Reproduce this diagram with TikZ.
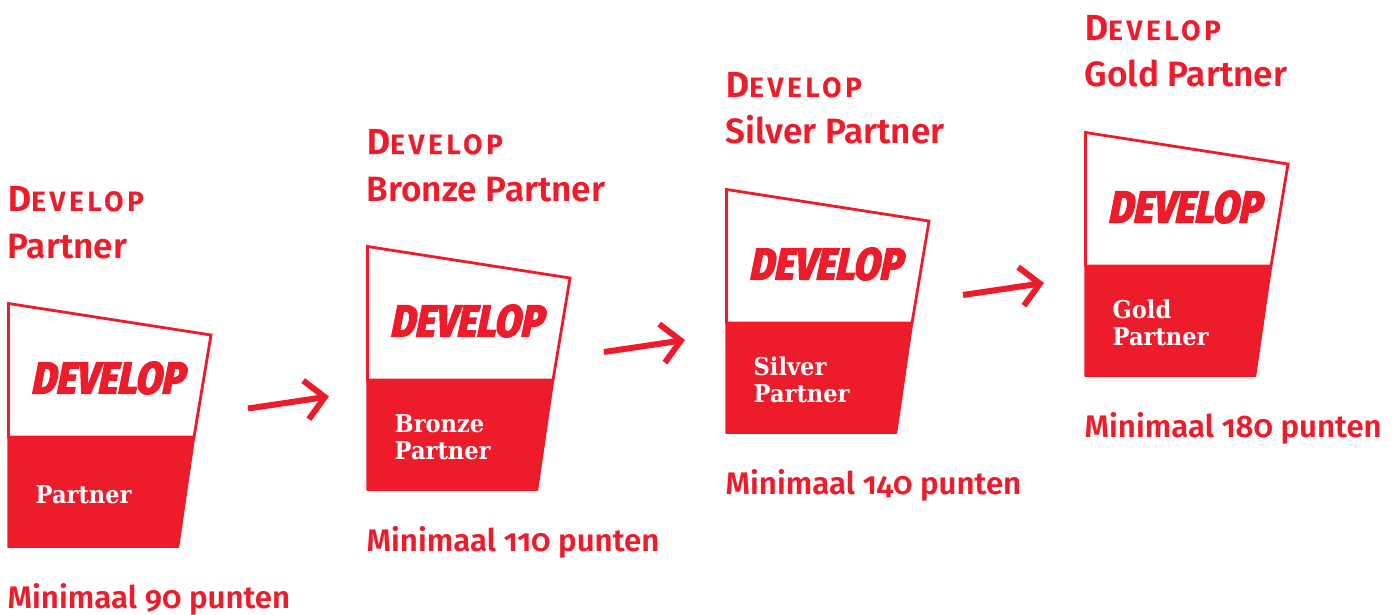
\documentclass[tikz,border=0pt]{standalone}
\usepackage{fontspec}
\usetikzlibrary{arrows.meta}
\setmainfont{Fira Sans}
\newfontfamily\headfont[RawFeature=+onum]{Fira Sans SemiBold}
\newfontfamily\logofont[FakeSlant=0.2,FakeStretch=0.84,FakeBold=2.5]{Fira Sans ExtraBold}
\newfontfamily\tierfont{DejaVu Serif}[BoldFont={DejaVu Serif Bold},BoldFeatures={FakeStretch=0.92}]
\definecolor{devred}{HTML}{EE1C2B}
\tikzset{
  x=1pt,y=-1pt,
  outline/.style={draw=devred,line width=2.8pt,line join=miter,fill=white},
  redpart/.style={fill=devred,draw=devred,line width=1.5pt,line join=round},
  headtext/.style={anchor=base west,inner sep=0pt,text=devred,font=\headfont\fontsize{35.2}{35}\selectfont},
  devtext/.style={anchor=base west,inner sep=0pt,text=devred},
  pointstext/.style={anchor=base west,inner sep=0pt,text=devred,font=\headfont\fontsize{31.2}{31.5}\selectfont},
  logotext/.style={anchor=center,inner sep=0pt,text=devred,font=\logofont\fontsize{45}{45}\selectfont},
  tiertext/.style={anchor=base west,inner sep=0pt,text=white,font=\tierfont\bfseries\fontsize{24.5}{27}\selectfont},
  stepline/.style={draw=devred,line width=6pt,-{Straight Barb[length=19pt,width=39pt,line width=6pt]}}
}
\newcommand{\devword}{{\headfont\addfontfeature{FakeBold=0.6}\fontsize{36}{36}\selectfont D\fontsize{28}{28}\selectfont\addfontfeature{LetterSpace=13}EVELOP}}
\newcommand{\badgegroup}[6]{%
  \begin{scope}[shift={(#2,#3)}]
    \node[devtext] (#1dev) at (7.5,211) {\devword};
    \node[headtext] (#1title) at (7.5,258) {#4};
    \draw[outline] (8.5,303.5) -- (211,335) -- (194,437) -- (8.5,437) -- cycle;
    \draw[redpart] (8,437) -- (194.5,437) -- (178.5,547) -- (8,547) -- cycle;
    \node[logotext] (#1logo) at (107,378) {DEVELOP};
    #5
    \node[pointstext] (#1pts) at (7.5,608) {#6};
  \end{scope}}
\begin{document}
\begin{tikzpicture}
\useasboundingbox (0,0) rectangle (1398,615);
\badgegroup{a}{0}{0}{Partner}{\node[tiertext] (atier) at (35.5,503) {Partner};}{Minimaal 90 punten}
\badgegroup{b}{359}{-57}{Bronze Partner}{\node[tiertext] (btier) at (35.5,489) {Bronze}; \node[tiertext] (btierb) at (35.5,516) {Partner};}{Minimaal 110 punten}
\badgegroup{c}{718}{-114}{Silver Partner}{\node[tiertext] (ctier) at (35.5,489) {Silver}; \node[tiertext] (ctierb) at (35.5,516) {Partner};}{Minimaal 140 punten}
\badgegroup{d}{1077}{-171}{Gold Partner}{\node[tiertext] (dtier) at (35.5,489) {Gold}; \node[tiertext] (dtierb) at (35.5,516) {Partner};}{Minimaal 180 punten}
\coordinate (s1) at (248,408.5); \coordinate (e1) at (329,396.5);
\coordinate (s2) at (604,352); \coordinate (e2) at (685,340);
\coordinate (s3) at (963,295); \coordinate (e3) at (1044,283);
\draw[stepline] (s1) -- (e1);
\draw[stepline] (s2) -- (e2);
\draw[stepline] (s3) -- (e3);
\end{tikzpicture}
\end{document}
